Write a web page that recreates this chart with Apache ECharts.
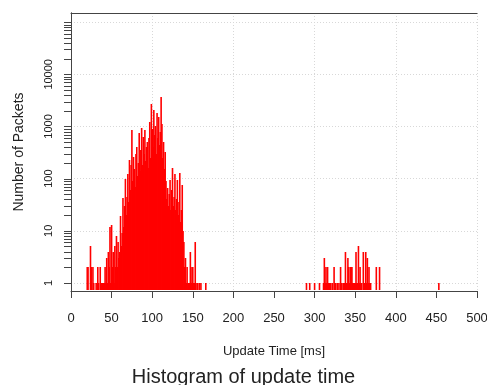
<!DOCTYPE html>
<html>
<head>
<meta charset="utf-8">
<script src="https://cdn.jsdelivr.net/npm/echarts@6/dist/echarts.min.js"></script>
<style>html,body{margin:0;padding:0;background:#fff}#c{width:487px;height:385px}</style>
</head>
<body>
<div id="c"></div>
<script>
// Update time bins (ms) and packet counts
const times = [20,21,24,25,27,28,31,33,34,36,37,38,39,40,41,42,43,44,45,46,47,48,49,50,51,52,53,54,55,56,57,58,59,60,
  61,62,63,64,65,66,67,68,69,70,71,72,73,74,75,76,77,78,79,80,81,82,83,84,85,86,87,88,89,90,
  91,92,93,94,95,96,97,98,99,100,101,102,103,104,105,106,107,108,109,110,111,112,113,114,115,116,117,118,119,120,
  121,122,123,124,125,126,127,128,129,130,131,132,133,134,135,136,137,138,139,140,141,142,143,144,145,146,147,148,149,150,
  151,152,153,154,156,158,160,166,
  290,294,300,306,311,312,313,314,315,316,317,318,319,320,322,324,325,326,328,330,332,333,335,336,337,338,339,340,
  341,342,343,344,345,346,347,348,349,350,351,352,353,354,355,356,357,358,360,361,362,363,364,365,366,367,368,369,376,380,453];
const counts = [2,2,5,2,2,1,1,2,1,2,1,1,1,1,1,2,1,3,1,4,2,12,1,13,2,4,1,5,2,8,2,6,3,4,
  19,5,9,43,12,30,100,20,45,120,35,230,60,180,870,90,260,150,70,300,400,110,200,760,140,350,950,180,640,300,
  870,220,400,510,160,600,1200,250,2650,900,400,2100,700,1000,300,1850,600,1500,450,800,3600,1100,250,510,150,330,90,40,67,30,
  50,95,25,60,160,30,45,120,25,40,95,20,35,130,15,25,76,10,6,2,3,1,2,1,1,1,4,1,2,2,
  1,1,6,1,1,1,1,1,
  1,1,1,1,1,3,1,2,1,2,1,1,1,1,1,2,1,1,1,1,2,1,1,1,1,4,1,1,
  3,2,1,2,2,2,1,1,1,1,4,1,1,5,1,2,1,1,4,1,1,4,1,3,1,2,1,1,2,2,1];
const xTicks = [0,50,100,150,200,250,300,350,400,450,500];
const yLabels = [1,10,100,1000,10000];

const Y_MIN = 0.7, Y_MAX = 150000;
const FONT = "'Liberation Sans', Arial, Helvetica, sans-serif";
const AXIS_COLOR = '#444';
const GRID_LINE = {show: true, lineStyle: {color: '#d8d8d8', type: [1, 2]}};

// log-axis tick positions (major + minor) for the left axis tick marks
const yTickVals = [];
for (let k = 0; k <= 5; k++) {
  for (let m = 1; m <= 9; m++) {
    const v = m * Math.pow(10, k);
    if (v <= Y_MAX) yTickVals.push([0, v]);
  }
}

const chart = echarts.init(document.getElementById('c'), null, {renderer: 'canvas'});
chart.setOption({
  animation: false,
  backgroundColor: '#ffffff',
  title: {
    text: 'Histogram of update time',
    left: 'center', top: 362,
    textStyle: {fontFamily: FONT, fontSize: 20, fontWeight: 'normal', color: '#222'}
  },
  grid: {left: 71, right: 10, top: 13, bottom: 94, outerBoundsMode: 'none', containLabel: false},
  xAxis: [{
    type: 'value', min: 0, max: 500, interval: 50,
    name: 'Update Time [ms]', nameLocation: 'middle', nameGap: 54,
    nameTextStyle: {fontFamily: FONT, fontSize: 13, color: '#222'},
    axisLine: {show: true, lineStyle: {color: AXIS_COLOR}},
    axisTick: {show: true, length: 7, lineStyle: {color: AXIS_COLOR}},
    axisLabel: {fontFamily: FONT, fontSize: 13, color: '#222', margin: 21,
      formatter: v => xTicks.includes(v) ? String(v) : ''},
    splitLine: {show: false},
    z: 5
  }, {
    type: 'value', min: 0, max: 500, interval: 100, position: 'top',
    axisLine: {show: true, lineStyle: {color: AXIS_COLOR}}, axisTick: {show: false}, axisLabel: {show: false},
    splitLine: GRID_LINE,
    z: 1
  }],
  yAxis: [{
    type: 'log', logBase: 10, min: Y_MIN, max: Y_MAX,
    name: 'Number of Packets', nameLocation: 'middle', nameGap: 45, nameRotate: 90,
    nameTextStyle: {fontFamily: FONT, fontSize: 14, color: '#222'},
    axisLine: {show: true, lineStyle: {color: AXIS_COLOR}},
    axisTick: {show: false},
    axisLabel: {fontFamily: FONT, fontSize: 11, color: '#222', rotate: 90, margin: 17,
      formatter: v => {
        for (const l of yLabels) if (Math.abs(v - l) / l < 1e-6) return String(l);
        return '';
      }},
    splitLine: GRID_LINE,
    z: 1
  }, {
    type: 'log', logBase: 10, min: Y_MIN, max: Y_MAX, position: 'right',
    axisLine: {show: true, lineStyle: {color: AXIS_COLOR}},
    axisTick: {show: false}, axisLabel: {show: false}, splitLine: {show: false},
    z: 5
  }],
  series: [{
    type: 'custom',
    name: 'counts',
    z: 3,
    xAxisIndex: 0, yAxisIndex: 0,
    data: times.map((t, i) => [t, counts[i]]),
    renderItem: (params, api) => {
      const top = api.coord([api.value(0), api.value(1)]);
      const base = api.coord([api.value(0), Y_MIN]);
      return {type: 'line', shape: {x1: top[0], y1: Math.round(top[1]), x2: top[0], y2: base[1] - 1},
        style: {stroke: '#ff0000', lineWidth: 1.6}};
    }
  }, {
    type: 'custom',
    name: 'yticks',
    z: 6,
    xAxisIndex: 0, yAxisIndex: 0,
    clip: false, silent: true,
    data: yTickVals,
    renderItem: (params, api) => {
      const p = api.coord([0, api.value(1)]);
      const y = Math.round(p[1]) + 0.5;
      return {type: 'line', shape: {x1: p[0] - 7, y1: y, x2: p[0], y2: y},
        style: {stroke: AXIS_COLOR, lineWidth: 1}};
    }
  }]
});
</script>
</body>
</html>
